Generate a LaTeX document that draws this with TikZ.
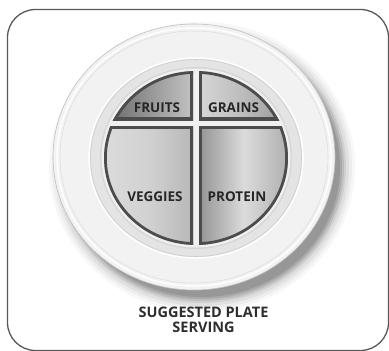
\documentclass[tikz,border=0pt]{standalone}
\usepackage{fontspec}
\setmainfont{Open Sans}
\begin{document}
\begin{tikzpicture}[x=1pt,y=-1pt,
  lbl/.style={font=\bfseries\fontsize{13.5}{15}\selectfont, text=black!85, inner sep=0pt},
  titletxt/.style={font=\bfseries\fontsize{14.5}{17}\selectfont, text=black!82, inner sep=0pt, align=center},
  secline/.style={line width=5.5pt, draw=black!70}]
\definecolor{rimc}{HTML}{F2F2F2}
\definecolor{wellc}{HTML}{E4E4E4}
\useasboundingbox (0,0) rectangle (389,351);
\fill[white] (0,0) rectangle (389,351);
% frame
\draw[line width=1.3pt, black!65, rounded corners=28pt] (7.5,9.5) rectangle (388.5,350.5);
% shadow
\foreach \o/\a in {15/0.03,12/0.04,9/0.05,6/0.07,4/0.09,2/0.1,0/0.1}{
  \fill[black, opacity=\a] (202,167) ellipse [x radius={138pt+\o pt}, y radius={130pt+\o pt}];
}
% plate
\fill[rimc] (194,157) ellipse [x radius=141pt, y radius=133pt];
\draw[line width=0.6pt, black!25] (194,157) ellipse [x radius=141pt, y radius=133pt];
\draw[line width=1.4pt, white] (194,157) ellipse [x radius=137pt, y radius=129pt];
\draw[line width=0.5pt, black!14] (194,157) ellipse [x radius=134pt, y radius=126pt];
% well
\fill[wellc] (196,158) ellipse [x radius=107pt, y radius=100pt];
\draw[line width=1.5pt, white] (196,158) ellipse [x radius=107pt, y radius=100pt];
\draw[line width=0.6pt, black!20] (196,158) ellipse [x radius=105.5pt, y radius=98.5pt];
\fill[black!16] (196,158) ellipse [x radius=96pt, y radius=91pt];
\fill[black!6] (196,158) ellipse [x radius=94.5pt, y radius=89.5pt];
% sections
\begin{scope}
  \clip (196,158) ellipse [x radius=92pt, y radius=87pt];
  \begin{scope}
    \clip (90,60) rectangle (193,120);
    \shade[shading angle=-60, left color=black!62, right color=black!24, middle color=black!42] (100,60) rectangle (193,120);
    \draw[secline] (196,158) ellipse [x radius=92pt, y radius=87pt];
    \draw[secline] (90,60) rectangle (193,120);
  \end{scope}
  \begin{scope}
    \clip (199,60) rectangle (300,120);
    \shade[shading angle=-60, left color=black!16, right color=black!42, middle color=black!27] (199,60) rectangle (292,120);
    \draw[secline] (196,158) ellipse [x radius=92pt, y radius=87pt];
    \draw[secline] (199,60) rectangle (300,120);
  \end{scope}
  \begin{scope}
    \clip (90,126) rectangle (193,260);
    \shade[shading angle=-50, left color=black!14, right color=black!28, middle color=black!18] (104,126) rectangle (193,246);
    \draw[secline] (196,158) ellipse [x radius=92pt, y radius=87pt];
    \draw[secline] (90,126) rectangle (193,260);
  \end{scope}
  \begin{scope}
    \clip (199,126) rectangle (300,260);
    \shade[shading angle=-40, left color=black!42, right color=black!32, middle color=black!14] (199,126) rectangle (289,246);
    \draw[secline] (196,158) ellipse [x radius=92pt, y radius=87pt];
    \draw[secline] (199,126) rectangle (300,260);
  \end{scope}
\end{scope}
% labels
\node[lbl] (fruits) at (157,108) {FRUITS};
\node[lbl] (grains) at (233.5,108) {GRAINS};
\node[lbl] (veggies) at (155,197) {VEGGIES};
\node[lbl] (protein) at (237,197) {PROTEIN};
\node[titletxt] (title) at (203.5,320) {SUGGESTED PLATE\\[-2pt]SERVING};
\end{tikzpicture}
\end{document}
